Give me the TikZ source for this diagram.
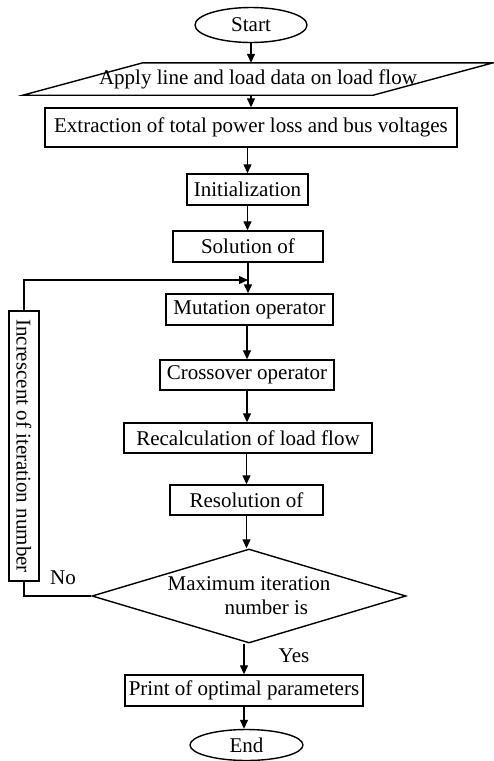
\documentclass[tikz,border=0pt]{standalone}
\usepackage{fontspec}
\setmainfont{Liberation Serif}
\usetikzlibrary{shapes.geometric,arrows.meta}
\begin{document}
\begin{tikzpicture}[x=1pt,y=-1pt,
  every node/.style={font=\fontsize{21}{24}\selectfont, inner sep=0pt},
  box/.style={draw, line width=1.4pt, rectangle},
  oval/.style={draw, line width=1.4pt, ellipse},
  arr/.style={line width=1.3pt, -{Triangle[length=9pt,width=8pt]}},
  ln/.style={line width=1.3pt}]
\useasboundingbox (0,0) rectangle (494,761);
\node[oval, minimum width=112pt, minimum height=35pt] (start) at (251,25) {Start};
\node[minimum width=350pt, minimum height=32pt] (par) at (258,79) {Apply line and load data on load flow};
\draw[line width=1.4pt] ([xshift=60pt]par.north west) -- ([xshift=60pt]par.north east)
  -- ([xshift=-60pt]par.south east) -- ([xshift=-60pt]par.south west) -- cycle;
\node[box, minimum width=412pt, minimum height=39pt] (ext) at (251,127.5) {Extraction of total power loss and bus voltages};
\node[box, minimum width=121pt, minimum height=31pt] (init) at (247.5,189.5) {Initialization};
\node[box, minimum width=150pt, minimum height=31pt] (sol) at (248,246.5) {Solution of};
\node[box, minimum width=167pt, minimum height=31pt] (mut) at (249.5,309.5) {Mutation operator};
\node[box, minimum width=174pt, minimum height=30pt] (cross) at (247,375) {Crossover operator};
\node[box, minimum width=248pt, minimum height=30pt] (recalc) at (248,438) {Recalculation of load flow};
\node[box, minimum width=153pt, minimum height=30pt] (reso) at (246.5,500) {Resolution of};
\node[draw, line width=1.4pt, diamond, aspect=3.34, minimum width=314pt, minimum height=94pt, align=left] (dec) at (249,596)
  {Maximum iteration\\\hspace*{57pt}number is};
\node[box, minimum width=238pt, minimum height=31pt] (print) at (244,690.5) {Print of optimal parameters};
\node[oval, minimum width=113pt, minimum height=31pt] (end) at (246.5,745) {End};
\node[box, rotate=-90, minimum width=270pt, minimum height=30pt] (inc) at (24,446) {Increscent of iteration number};
\node (no) at (63,578) {No};
\node (yes) at (294,656) {Yes};
\coordinate (loopin) at (248,280);
\draw[arr] (start.south) -- (start.south |- par.north);
\draw[arr] (start.south |- par.south) -- (start.south |- ext.north);
\draw[arr] (ext.south -| init.south) -- (init.north);
\draw[arr] (init.south) -- (init.south |- sol.north);
\draw[arr] (sol.south) -- (sol.south |- mut.north);
\draw[arr] (mut.south -| cross.north) -- (cross.north);
\draw[arr] (cross.south) -- (cross.south |- recalc.north);
\draw[arr] (recalc.south -| reso.north) -- (reso.north);
\draw[arr] (reso.south) -- (reso.south |- dec.north);
\draw[arr] (print.north |- dec.south) -- (print.north);
\draw[arr] (print.south) -- (print.south |- end.north);
\draw[ln] (dec.west) -| (inc);
\draw[arr] (inc) |- (loopin);
\end{tikzpicture}
\end{document}
